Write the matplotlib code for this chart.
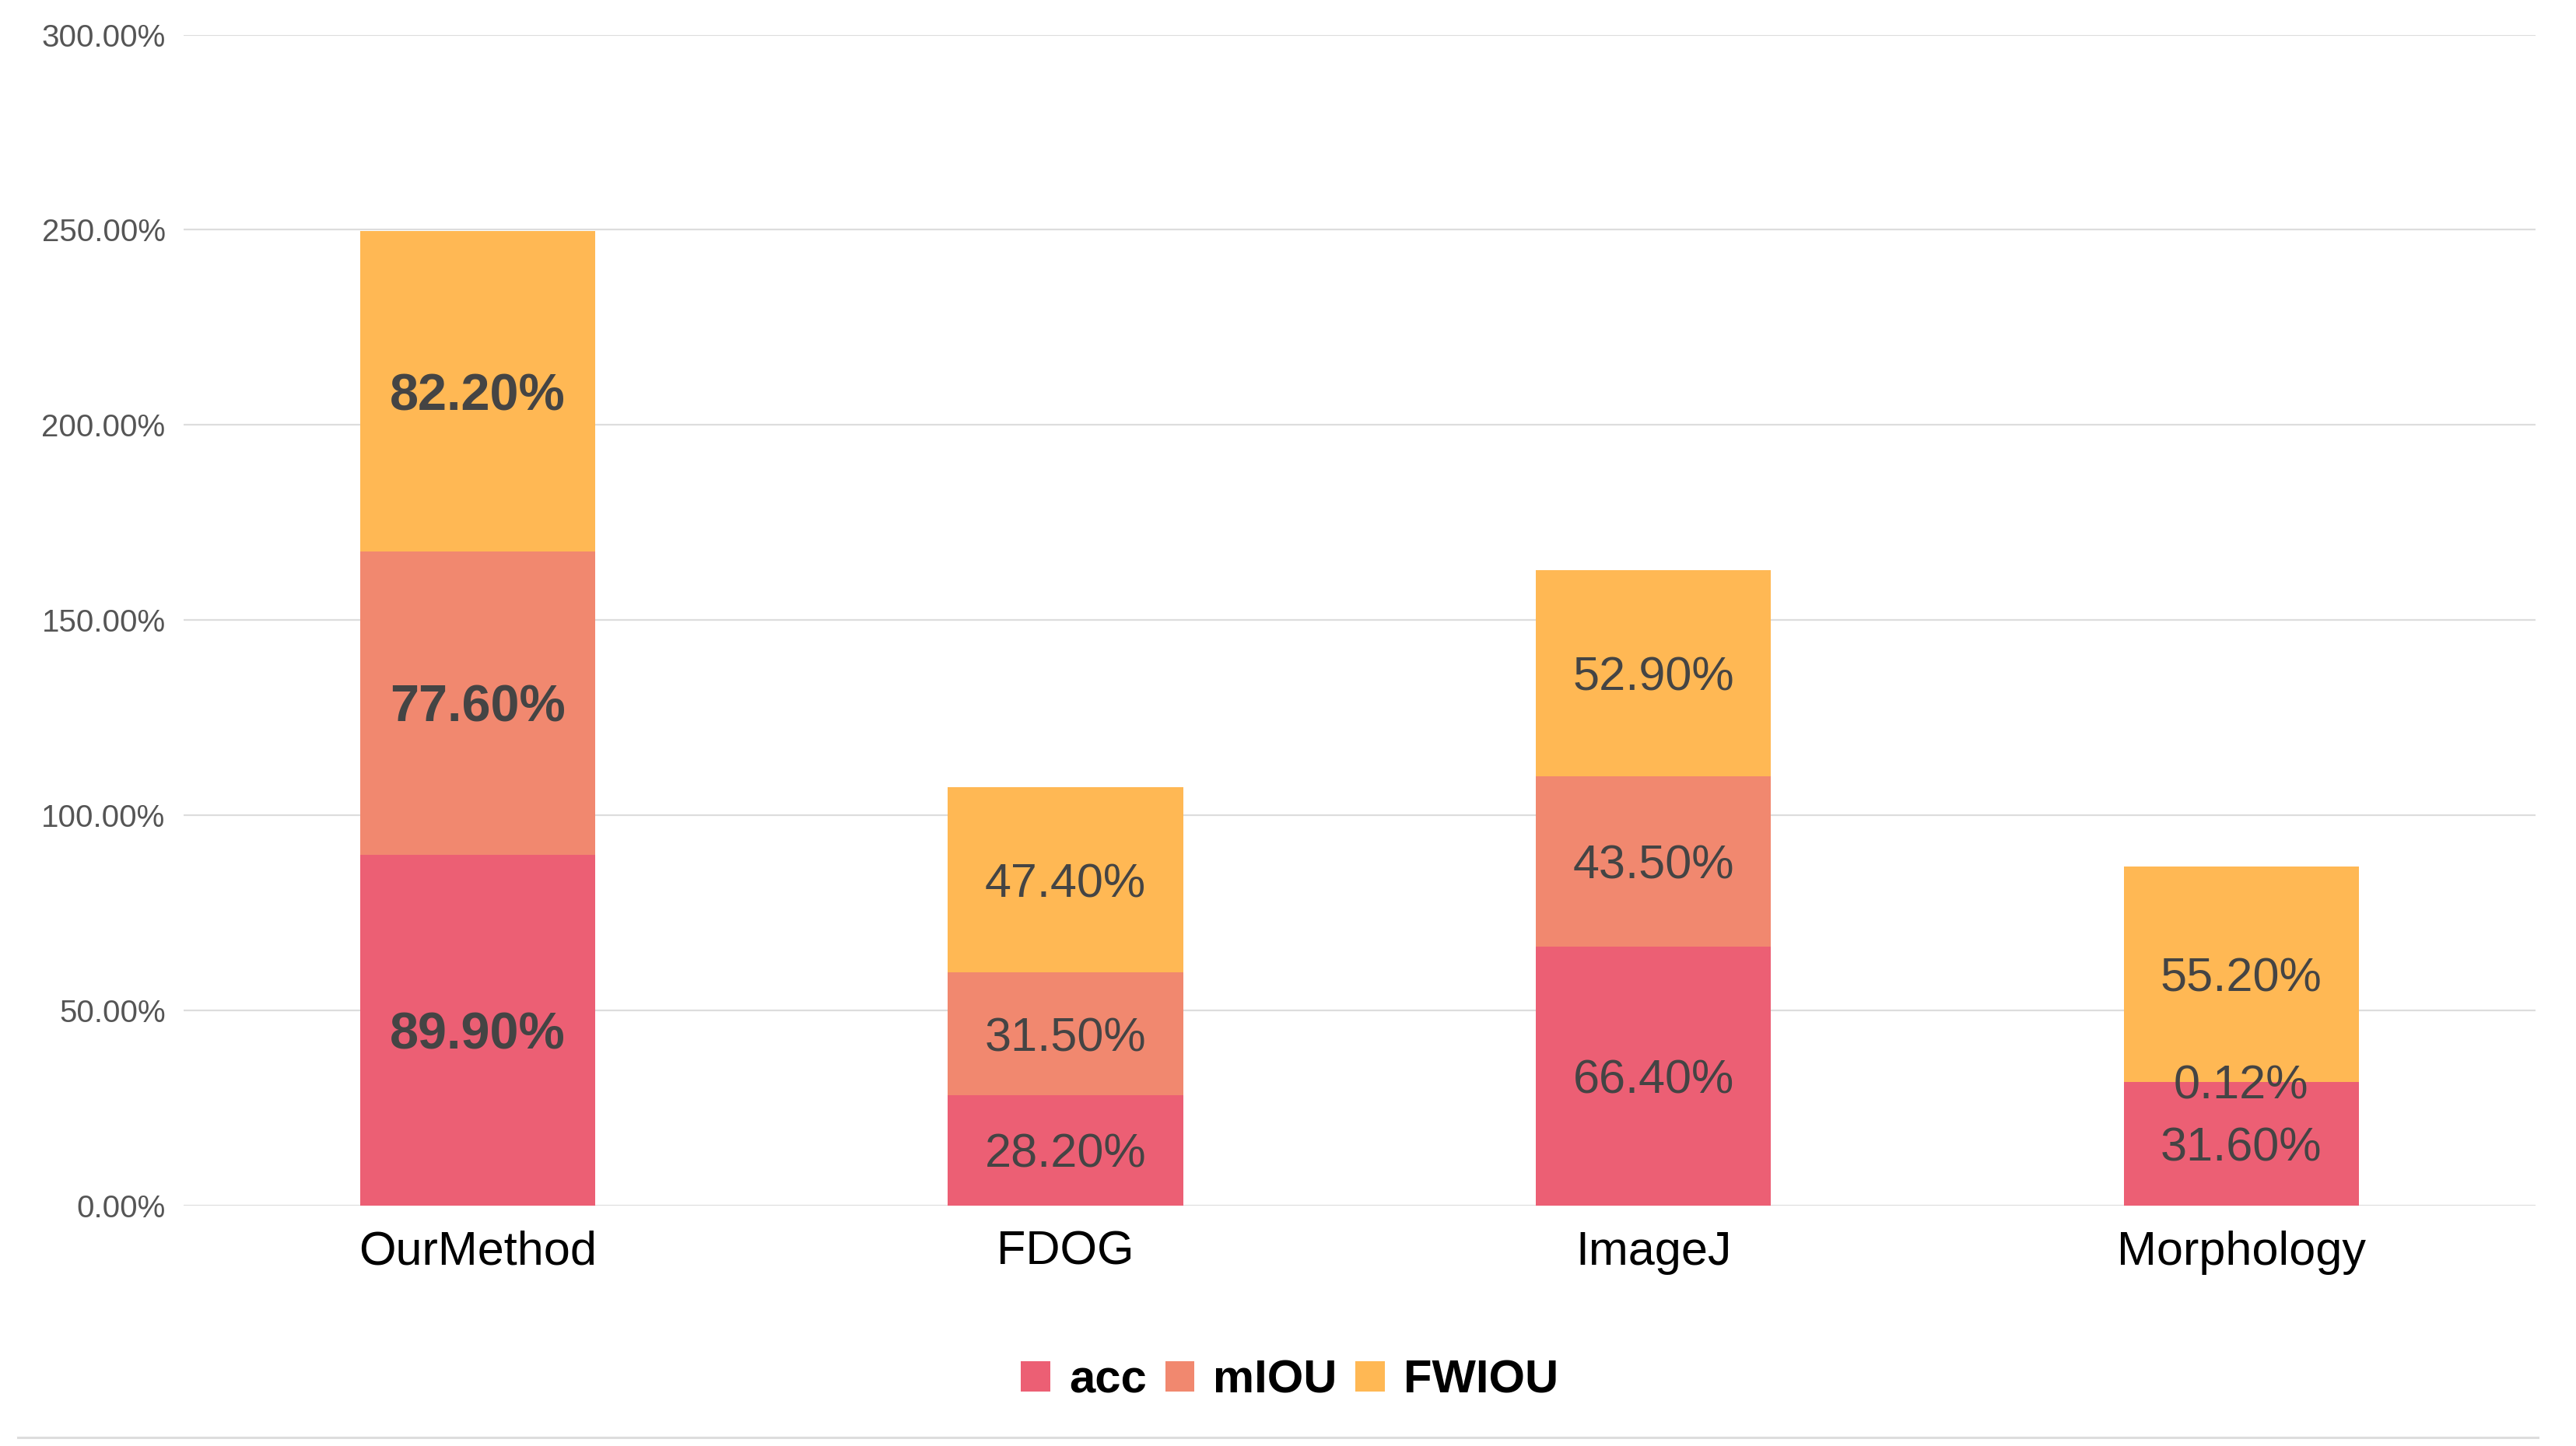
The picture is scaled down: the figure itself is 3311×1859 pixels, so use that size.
import matplotlib
matplotlib.use("Agg")
import matplotlib.pyplot as plt
from matplotlib.lines import Line2D
import numpy as np

plt.rcParams['font.family'] = ['Liberation Sans', 'DejaVu Sans']

methods = ["OurMethod", "FDOG", "ImageJ", "Morphology"]
acc = [89.90, 28.20, 66.40, 31.60]
miou = [77.60, 31.50, 43.50, 0.12]
fwiou = [82.20, 47.40, 52.90, 55.20]
series_names = ["acc", "mIOU", "FWIOU"]
colors = ["#ec5f74", "#f1886f", "#ffb854"]
yticks = [0, 50, 100, 150, 200, 250, 300]

fig = plt.figure(figsize=(33.12, 18.59), dpi=100)
ax = fig.add_axes([0.0713, 0.1664, 0.9126, 0.8096])

x = np.arange(len(methods))
bottom = np.zeros(len(methods))
for name, vals, col in zip(series_names, [acc, miou, fwiou], colors):
    vals = np.array(vals)
    bars = ax.bar(x, vals, 0.4, bottom=bottom, color=col, label=name, zorder=2)
    for i, b in enumerate(bars):
        cy = bottom[i] + vals[i] / 2
        # first group's labels are bold and a bit bigger
        if i == 0:
            ax.text(x[i], cy, "%.2f%%" % vals[i], ha="center", va="center_baseline",
                    fontsize=48, color="#444444", fontweight="bold", zorder=3)
        else:
            ax.text(x[i], cy, "%.2f%%" % vals[i], ha="center", va="center_baseline",
                    fontsize=44, color="#444444", zorder=3)
    bottom = bottom + vals

ax.set_xlim(-0.5, 3.5)
ax.set_ylim(0, 300)
ax.set_yticks(yticks)
ax.set_yticklabels(["%.2f%%" % v for v in yticks], fontsize=29, color="#555555")
ax.set_xticks(x)
ax.set_xticklabels(methods, fontsize=44, color="black")
ax.tick_params(axis="y", length=0, pad=17)
ax.tick_params(axis="x", length=0, pad=23)
ax.grid(axis="y", color="#dddddd", linewidth=1.6, zorder=0)
for s in ax.spines.values():
    s.set_visible(False)

leg = fig.legend(loc="center", bbox_to_anchor=(0.5005, 0.045), ncol=3, frameon=False,
                 prop={"size": 43, "weight": "bold"}, handlelength=0.63,
                 handleheight=0.63, handletextpad=0.4, columnspacing=0.4)

# separator line at the bottom of the figure
fig.add_artist(Line2D([0.007, 0.985], [0.006, 0.006], color="#dddddd", linewidth=2.2,
                      transform=fig.transFigure))

fig.savefig("out.png", dpi=100)
